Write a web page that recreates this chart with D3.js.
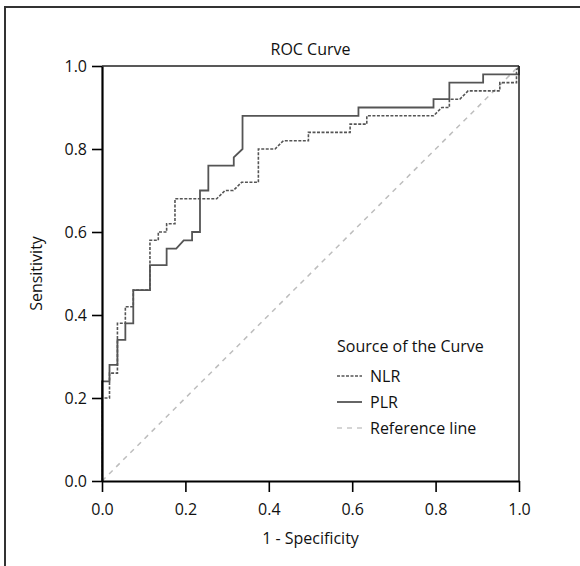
<!DOCTYPE html>
<html>
<head>
<meta charset="utf-8">
<script src="https://cdn.jsdelivr.net/npm/d3@7"></script>
<style>
  html, body { margin: 0; padding: 0; background: #fff; }
  svg text { font-family: "Open Sans", "Noto Sans", sans-serif; fill: #111; }
</style>
</head>
<body>
<svg id="chart" width="580" height="566"></svg>
<script>
// values (step vertices of each ROC curve)
const nlrFpr = [0, 0, 0.018, 0.018, 0.037, 0.037, 0.056, 0.056, 0.075, 0.075, 0.115, 0.115, 0.135, 0.135, 0.155, 0.155, 0.175, 0.175, 0.275, 0.295, 0.315, 0.335, 0.375, 0.375, 0.415, 0.435, 0.495, 0.495, 0.595, 0.595, 0.635, 0.635, 0.795, 0.815, 0.833, 0.833, 0.858, 0.878, 0.954, 0.954, 0.994, 0.994, 1];
const nlrTpr = [0, 0.20, 0.20, 0.26, 0.26, 0.38, 0.38, 0.42, 0.42, 0.46, 0.46, 0.58, 0.58, 0.60, 0.60, 0.62, 0.62, 0.68, 0.68, 0.70, 0.70, 0.72, 0.72, 0.80, 0.80, 0.82, 0.82, 0.84, 0.84, 0.86, 0.86, 0.88, 0.88, 0.90, 0.90, 0.92, 0.92, 0.94, 0.94, 0.96, 0.96, 0.99, 1];

const plrFpr = [0, 0, 0.018, 0.018, 0.037, 0.037, 0.056, 0.056, 0.075, 0.075, 0.115, 0.115, 0.155, 0.155, 0.178, 0.196, 0.216, 0.216, 0.235, 0.235, 0.255, 0.255, 0.316, 0.316, 0.337, 0.337, 0.615, 0.615, 0.795, 0.795, 0.833, 0.833, 0.914, 0.914, 1, 1];
const plrTpr = [0, 0.24, 0.24, 0.28, 0.28, 0.34, 0.34, 0.38, 0.38, 0.46, 0.46, 0.52, 0.52, 0.56, 0.56, 0.58, 0.58, 0.60, 0.60, 0.70, 0.70, 0.76, 0.76, 0.78, 0.80, 0.88, 0.88, 0.90, 0.90, 0.92, 0.92, 0.96, 0.96, 0.98, 0.98, 1];

const refLine = [0, 1];
const tickValues = [0, 0.2, 0.4, 0.6, 0.8, 1.0];
const legendLabels = ["NLR", "PLR", "Reference line"];

const margin = { top: 66, right: 61, bottom: 85, left: 102 };
const width = 580 - margin.left - margin.right;
const height = 566 - margin.top - margin.bottom;
const fontSize = 16;

const svg = d3.select("#chart");

// outer frame, runs off the right and bottom edges
svg.append("rect")
    .attr("x", 5).attr("y", 7)
    .attr("width", 620).attr("height", 620)
    .attr("fill", "none")
    .attr("stroke", "#333")
    .attr("stroke-width", 2);

const g = svg.append("g").attr("transform", `translate(${margin.left},${margin.top})`);

const x = d3.scaleLinear().domain([0, 1]).range([0, width]);
const y = d3.scaleLinear().domain([0, 1]).range([height, 0]);

const toPts = (xs, ys) => xs.map((d, i) => [d, ys[i]]);
const path = d3.line().x(d => x(d[0])).y(d => y(d[1]));

// reference diagonal
g.append("path")
    .datum(toPts(refLine, refLine))
    .attr("d", path)
    .attr("fill", "none")
    .attr("stroke", "#bdbdbd")
    .attr("stroke-width", 1.5)
    .attr("stroke-dasharray", "5,5");

g.append("path")
    .datum(toPts(nlrFpr, nlrTpr))
    .attr("d", path)
    .attr("fill", "none")
    .attr("stroke", "#555")
    .attr("stroke-width", 1.6)
    .attr("stroke-dasharray", "3,1.5");

g.append("path")
    .datum(toPts(plrFpr, plrTpr))
    .attr("d", path)
    .attr("fill", "none")
    .attr("stroke", "#555")
    .attr("stroke-width", 1.8);

// top and right frame lines
g.append("line")
    .attr("x1", x(0)).attr("x2", x(1))
    .attr("y1", y(1)).attr("y2", y(1))
    .attr("stroke", "#222").attr("stroke-width", 1.5);
g.append("line")
    .attr("x1", x(1)).attr("x2", x(1))
    .attr("y1", y(0)).attr("y2", y(1))
    .attr("stroke", "#222").attr("stroke-width", 1.5);

const fmt = d3.format(".1f");

const xAxis = g.append("g")
    .attr("transform", `translate(0,${height})`)
    .call(d3.axisBottom(x).tickValues(tickValues).tickFormat(fmt).tickSize(11).tickPadding(12).tickSizeOuter(0));

const yAxis = g.append("g")
    .call(d3.axisLeft(y).tickValues(tickValues).tickFormat(fmt).tickSize(10).tickPadding(5).tickSizeOuter(0));

[xAxis, yAxis].forEach(a => {
    a.select(".domain").attr("stroke", "#000").attr("stroke-width", 2.2);
    a.selectAll(".tick line").attr("stroke", "#000").attr("stroke-width", 1.6);
    a.selectAll(".tick text").attr("font-size", fontSize).attr("fill", "#111");
});

// titles
svg.append("text")
    .attr("x", margin.left + width / 2).attr("y", 55)
    .attr("text-anchor", "middle")
    .attr("font-size", fontSize)
    .text("ROC Curve");

svg.append("text")
    .attr("x", margin.left + width / 2).attr("y", 544)
    .attr("text-anchor", "middle")
    .attr("font-size", fontSize)
    .text("1 - Specificity");

svg.append("text")
    .attr("transform", `translate(42,${margin.top + height / 2}) rotate(-90)`)
    .attr("text-anchor", "middle")
    .attr("font-size", fontSize)
    .text("Sensitivity");

// legend
const legend = svg.append("g").attr("transform", "translate(337,352)");
legend.append("text")
    .attr("x", 0).attr("y", 0)
    .attr("font-size", fontSize)
    .text("Source of the Curve");

const legendStyles = [
    { stroke: "#555", dash: "3,1.5", w: 1.6 },
    { stroke: "#555", dash: null, w: 1.8 },
    { stroke: "#c8c8c8", dash: "5,5", w: 1.5 }
];

legendLabels.forEach((lab, i) => {
    const row = legend.append("g").attr("transform", `translate(0,${30 + i * 26})`);
    row.append("line")
        .attr("x1", 0).attr("x2", 25)
        .attr("y1", -6).attr("y2", -6)
        .attr("stroke", legendStyles[i].stroke)
        .attr("stroke-width", legendStyles[i].w)
        .attr("stroke-dasharray", legendStyles[i].dash);
    row.append("text")
        .attr("x", 33).attr("y", 0)
        .attr("font-size", fontSize)
        .text(lab);
});
</script>
</body>
</html>
